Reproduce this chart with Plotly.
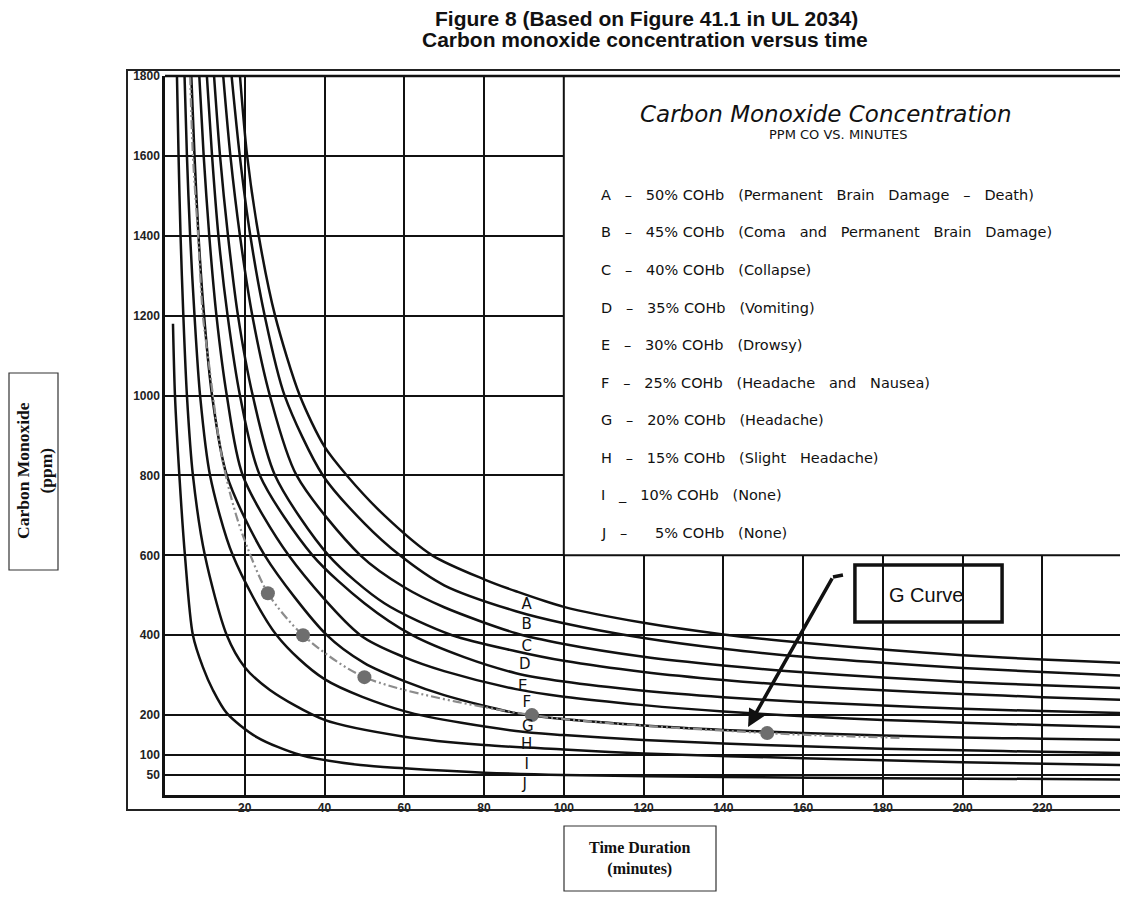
import plotly.graph_objects as go

# ---------------- data ----------------
A_t = [18.8, 20.6, 23.5, 27.6, 33.8, 40, 45.6, 55, 67, 80, 88, 100, 120, 140, 160, 180, 200, 220, 241.5]
A_y = [1800, 1600, 1400, 1200, 1000, 872, 800, 700, 600, 540, 510, 471, 431, 402, 381, 364, 350, 339, 330]

B_t = [16.7, 18.75, 21.4, 25, 30, 39.6, 50, 58.9, 70, 88, 100, 120, 140, 160, 180, 200, 220, 241.5]
B_y = [1800, 1600, 1400, 1200, 1000, 800, 680, 600, 525, 460, 430, 393, 366, 346, 331, 318, 308, 298]

C_t = [14.6, 16.4, 18.8, 21.9, 26.3, 33, 49, 60, 70, 88, 100, 120, 140, 160, 180, 200, 220, 241.5]
C_y = [1800, 1600, 1400, 1200, 1000, 800, 600, 520, 470, 405, 378, 346, 324, 307, 294, 283, 275, 267]

D_t = [12.3, 13.8, 15.8, 18.3, 22, 27.6, 41, 55, 72, 88, 100, 120, 140, 160, 180, 200, 220, 241.5]
D_y = [1800, 1600, 1400, 1200, 1000, 800, 600, 480, 400, 360, 336, 308, 288, 273, 262, 253, 245, 238]

E_t = [10.5, 11.8, 13.4, 15.7, 18.8, 23.8, 37, 50, 62, 75, 88, 100, 120, 140, 160, 180, 200, 220, 241.5]
E_y = [1800, 1600, 1400, 1200, 1000, 800, 600, 480, 400, 345, 305, 284, 261, 245, 233, 224, 216, 210, 205]

F_t = [8.6, 9.7, 11.1, 12.9, 15.5, 19.5, 31, 49, 60, 70, 88, 100, 120, 140, 160, 180, 200, 220, 241.5]
F_y = [1800, 1600, 1400, 1200, 1000, 800, 600, 400, 345, 310, 265, 246, 225, 209, 197, 188, 181, 175, 170]

G_t = [6.6, 7.4, 8.4, 9.8, 11.8, 15.5, 25, 40.6, 50, 60, 70, 88, 100, 120, 140, 160, 180, 200, 220, 241.5]
G_y = [1800, 1600, 1400, 1200, 1000, 800, 600, 400, 330, 285, 250, 205, 190, 174, 163, 155, 149, 144, 141, 138]

H_t = [4.9, 5.5, 6.3, 7.4, 8.8, 11.3, 17, 28, 40, 60, 88, 100, 120, 140, 160, 180, 200, 220, 241.5]
H_y = [1800, 1600, 1400, 1200, 1000, 800, 600, 400, 290, 210, 160, 150, 138, 129, 122, 116, 112, 108, 105]

I_t = [3.0, 3.4, 3.9, 4.6, 5.5, 7.0, 10.0, 15.5, 20, 26.3, 40, 60, 80, 100, 120, 160, 200, 241.5]
I_y = [1800, 1600, 1400, 1200, 1000, 800, 600, 400, 320, 263, 188, 146, 125, 114, 104, 92, 82, 75]

J_t = [2.0, 2.5, 3.6, 5.0, 7.0, 9.5, 12, 15.5, 23, 34, 49, 60, 80, 100, 140, 180, 241.5]
J_y = [1180, 1000, 800, 600, 400, 320, 263, 205, 145, 100, 75, 67, 56, 50, 45, 42, 39]

# dotted "G curve" and its marked points
Gd_t = [6.3, 7.0, 8.3, 9.5, 11, 13.8, 16.3, 19.3, 25.8, 34.6, 50, 92, 151, 185]
Gd_y = [1800, 1600, 1400, 1200, 1081, 871, 756, 656, 505, 400, 295, 200, 155, 143]
dot_t = [25.8, 34.6, 50, 92, 151]
dot_y = [505, 400, 295, 200, 155]

# curve letters
label_text = ["A", "B", "C", "D", "E", "F", "G", "H", "I", "J"]
label_t = [90.7, 90.7, 90.7, 90.2, 89.7, 90.7, 91.0, 90.7, 90.7, 90.2]
label_y = [475, 425, 370, 325, 270, 230, 170, 125, 75, 25]

x_ticks = [20, 40, 60, 80, 100, 120, 140, 160, 180, 200, 220, 240]
y_ticks = [50, 100, 200, 400, 600, 800, 1000, 1200, 1400, 1600, 1800]

legend_title = "Carbon Monoxide Concentration"
legend_sub = "PPM CO VS. MINUTES"
legend_items = [
    "A  –  50% COHb  (Permanent  Brain  Damage  –  Death)",
    "B  –  45% COHb  (Coma  and  Permanent  Brain  Damage)",
    "C  –  40% COHb  (Collapse)",
    "D  –  35% COHb  (Vomiting)",
    "E  –  30% COHb  (Drowsy)",
    "F  –  25% COHb  (Headache  and  Nausea)",
    "G  –  20% COHb  (Headache)",
    "H  –  15% COHb  (Slight  Headache)",
    "I  _  10% COHb  (None)",
    "J  –    5% COHb  (None)",
]

# ---------------- figure ----------------
# the page body has an 8px margin, so the figure is made 8px smaller
# and every position below is given in the reference's pixel frame
W, H = 1112, 885
L, R, T, B = 157, 0, 68, 98
PW, PH = W - L - R, H - T - B      # 955 x 719
X0_REF, Y0_REF = 165, 795           # plot origin in reference pixels


def px(xr):
    return (xr - X0_REF) / PW


def py(yr):
    return (Y0_REF - yr) / PH


fig = go.Figure()

curves = [(A_t, A_y), (B_t, B_y), (C_t, C_y), (D_t, D_y), (E_t, E_y),
          (F_t, F_y), (G_t, G_y), (H_t, H_y), (I_t, I_y), (J_t, J_y)]
for t, y in curves:
    fig.add_trace(go.Scatter(x=t, y=y, mode="lines",
                             line=dict(color="#111111", width=2.5, shape="spline", smoothing=0.8),
                             hoverinfo="skip", showlegend=False))

fig.add_trace(go.Scatter(x=Gd_t, y=Gd_y, mode="lines",
                         line=dict(color="#8c8c8c", width=2.2, shape="spline", smoothing=0.8,
                                   dash="9px,3px,2px,3px,2px,3px"),
                         hoverinfo="skip", showlegend=False))
fig.add_trace(go.Scatter(x=dot_t, y=dot_y, mode="markers",
                         marker=dict(size=14, color="#6e6e6e"),
                         hoverinfo="skip", showlegend=False))
fig.add_trace(go.Scatter(x=label_t, y=label_y, mode="text", text=label_text,
                         textfont=dict(family="DejaVu Sans", size=15, color="#111111"),
                         hoverinfo="skip", showlegend=False))

axis_font = dict(family="Liberation Sans", size=12, color="#222222", weight="bold")
fig.update_layout(
    width=W, height=H,
    margin=dict(l=L, r=R, t=T, b=B),
    paper_bgcolor="white", plot_bgcolor="white",
    template="none",
    showlegend=False,
    xaxis=dict(range=[0, PW / 3.988], tickvals=x_ticks, ticktext=[str(v) for v in x_ticks],
               showgrid=True, gridcolor="#111111", gridwidth=2, zeroline=False,
               showline=True, linecolor="#111111", linewidth=2.5, mirror=False,
               ticks="", tickfont=axis_font, fixedrange=True),
    yaxis=dict(range=[0, 1800], tickvals=y_ticks, ticktext=[str(v) for v in y_ticks],
               showgrid=True, gridcolor="#111111", gridwidth=2, zeroline=False,
               showline=True, linecolor="#111111", linewidth=2.5, mirror=False,
               ticks="", tickfont=axis_font, fixedrange=True),
)

shapes = []
# legend box (covers the grid in the upper right)
shapes.append(dict(type="rect", xref="x", yref="y", x0=100, x1=260, y0=600, y1=1800,
                   fillcolor="white", line=dict(color="#111111", width=2), layer="above"))
# top frame line of the plot
shapes.append(dict(type="line", xref="paper", yref="paper", x0=0, x1=1.05, y0=1, y1=1,
                   line=dict(color="#111111", width=2.5)))
# outer frame
shapes.append(dict(type="rect", xref="paper", yref="paper", x0=px(127), x1=1.05, y0=py(810), y1=py(70),
                   line=dict(color="#222222", width=2)))
# G curve box
shapes.append(dict(type="rect", xref="x", yref="y", x0=173.0, x1=209.9, y0=433, y1=576,
                   line=dict(color="#111111", width=3.5)))
# arrow hook
shapes.append(dict(type="line", xref="x", yref="y", x0=167.5, y0=545.8, x1=170.0, y1=550.8,
                   line=dict(color="#111111", width=3.5)))
# axis title boxes
shapes.append(dict(type="rect", xref="paper", yref="paper", x0=px(9), x1=px(58), y0=py(570), y1=py(373),
                   line=dict(color="#333333", width=1.2)))
shapes.append(dict(type="rect", xref="paper", yref="paper", x0=px(564), x1=px(716), y0=py(891), y1=py(826),
                   line=dict(color="#333333", width=1.2)))
fig.update_layout(shapes=shapes)


def note(xr, yr, text, font, **kw):
    d = dict(xref="paper", yref="paper", x=px(xr), y=py(yr), showarrow=False, text=text,
             font=font, xanchor="center", yanchor="middle")
    d.update(kw)
    return d


ann = []
ann.append(note(646, 18, "<b>Figure 8 (Based on Figure 41.1 in UL 2034)</b>",
                dict(family="Liberation Sans", size=21, color="#111111")))
ann.append(note(645, 39, "<b>Carbon monoxide concentration versus time</b>",
                dict(family="Liberation Sans", size=21, color="#111111")))
ann.append(note(34, 471, "<b>Carbon Monoxide<br>(ppm)</b>",
                dict(family="Liberation Serif", size=17.5, color="#111111"), textangle=-90))
ann.append(note(640, 858, "<b>Time Duration<br>(minutes)</b>",
                dict(family="Liberation Serif", size=16, color="#111111")))
# legend box texts
ann.append(note(826, 114, legend_title,
                dict(family="DejaVu Sans", size=23, color="#111111", style="italic")))
ann.append(note(838, 134, legend_sub,
                dict(family="DejaVu Sans", size=13, color="#111111")))
item_y = [195, 232, 270, 308, 345, 383, 420, 458, 495, 533]
for txt, yy in zip(legend_items, item_y):
    ann.append(note(599, yy, txt.replace("  ", "\u00a0\u00a0\u00a0"),
                    dict(family="DejaVu Sans", size=14.5, color="#111111"), xanchor="left"))
# G curve label and arrow
ann.append(dict(xref="x", yref="y", x=190.8, y=501, showarrow=False, text="G Curve",
                xanchor="center", yanchor="middle",
                font=dict(family="Liberation Sans", size=20, color="#111111")))
ann.append(dict(xref="x", yref="y", x=146.2, y=170.2, axref="x", ayref="y", ax=167.5, ay=545.8,
                showarrow=True, arrowhead=2, arrowsize=1, arrowwidth=3.5, arrowcolor="#111111",
                text=""))
fig.update_layout(annotations=ann)

fig.write_html("out.html")
